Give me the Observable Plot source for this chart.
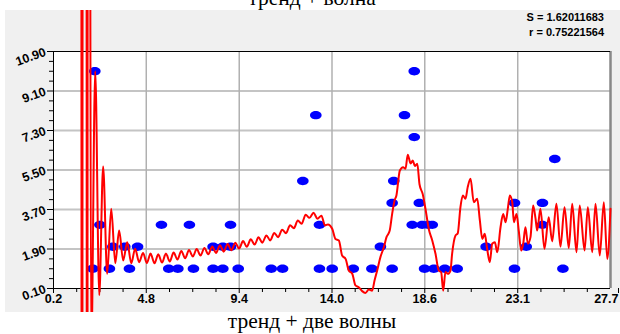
<!DOCTYPE html>
<html><head><meta charset="utf-8">
<script src="https://cdn.jsdelivr.net/npm/d3@7"></script>
<script src="https://cdn.jsdelivr.net/npm/@observablehq/plot@0.6"></script>
<style>
body{margin:0;width:620px;height:334px;position:relative;overflow:hidden;background:#fff;}
#title{position:absolute;left:0;width:624px;top:-12px;text-align:center;font:21.5px "Liberation Serif",serif;line-height:21px;color:#000;}
#chart{position:absolute;left:5px;top:10px;}
#stats{position:absolute;right:16px;top:10px;text-align:right;font:bold 11px "Liberation Sans",Arial,sans-serif;line-height:15px;color:#000;}
#caption{position:absolute;left:0;width:624px;top:311px;text-align:center;font:21.5px "Liberation Serif",serif;line-height:21px;color:#000;}
</style></head>
<body>
<div id="title">тренд + волна</div>
<div id="chart"></div>
<div id="stats">S = 1.62011683<br>r = 0.75221564</div>
<div id="caption">тренд + две волны</div>
<script>
const xTicks = [0.2, 4.78, 9.37, 13.95, 18.53, 23.12, 27.7];
const xLabels = ["0.2", "4.8", "9.4", "14.0", "18.6", "23.1", "27.7"];
const yTicks = [0.1, 1.9, 3.7, 5.5, 7.3, 9.1, 10.9];
const yLabels = ["0.10", "1.90", "3.70", "5.50", "7.30", "9.10", "10.90"];

const pointX = [2.24,2.14,2.49,2.96,3.13,3.72,3.95,4.35,5.53,5.89,
  6.34,6.91,7.11,8.08,8.08,8.56,8.56,8.94,8.94,9.32,
  10.95,11.51,12.51,13.15,13.33,13.33,13.96,15.00,15.92,16.34,
  16.92,16.92,17.00,17.53,18.01,18.01,17.91,18.26,18.40,18.70,
  18.90,18.52,18.98,19.52,20.13,21.56,22.96,22.96,23.54,24.34,
  24.34,24.95,25.35];
const pointY = [10,1,3,1,2,2,1,2,3,1,
  1,3,1,2,1,2,1,3,2,1,
  1,1,5,8,3,1,1,1,1,2,
  4,1,5,8,10,7,3,4,3,3,
  3,1,1,1,1,2,4,1,2,4,
  3,6,1];

const curveX = [1.57,1.61,1.65,1.82,1.86,1.90,1.96,2.06,2.26,2.46,
  2.65,2.85,3.05,3.25,3.44,3.64,3.84,4.04,4.23,4.43,
  4.62,4.81,4.99,5.19,5.37,5.56,5.75,5.94,6.13,6.32,
  6.51,6.70,6.89,7.08,7.27,7.46,7.65,7.84,8.04,8.22,
  8.42,8.60,8.80,8.98,9.18,9.36,9.56,9.74,9.94,10.13,
  10.32,10.51,10.71,10.90,11.10,11.29,11.49,11.68,11.88,12.07,
  12.26,12.45,12.65,12.84,13.04,13.23,13.43,13.60,13.75,13.96,
  14.12,14.29,14.45,14.62,14.78,14.95,15.11,15.27,15.44,15.60,
  15.77,15.93,16.05,16.18,16.34,16.51,16.64,16.80,16.92,17.04,
  17.13,17.30,17.46,17.58,17.69,17.83,17.94,18.04,18.16,18.27,
  18.43,18.57,18.73,18.90,19.06,19.22,19.34,19.44,19.55,19.67,
  19.80,19.88,20.05,20.16,20.29,20.41,20.54,20.65,20.79,20.95,
  21.12,21.25,21.37,21.49,21.61,21.74,21.86,21.99,22.11,22.27,
  22.40,22.52,22.63,22.73,22.85,22.93,23.06,23.17,23.29,23.39,
  23.50,23.62,23.75,23.88,24.00,24.08,24.24,24.44,24.65,24.82,
  25.03,25.23,25.43,25.64,25.81,26.02,26.18,26.42,26.58,26.80,
  26.96,27.17,27.37,27.54,27.70];
const curveY = [40,-40,40,40,-40,40,40,-3,10.0,-0.2,
  5.66,0.77,3.73,1.25,2.74,1.38,2.21,1.25,1.91,1.30,
  1.72,1.26,1.69,1.25,1.66,1.28,1.70,1.33,1.74,1.42,
  1.81,1.48,1.85,1.56,1.90,1.60,1.95,1.66,2.01,1.72,
  2.07,1.78,2.13,1.84,2.19,1.92,2.26,2.00,2.34,2.10,
  2.43,2.19,2.52,2.29,2.63,2.44,2.78,2.62,2.98,2.85,
  3.20,3.05,3.46,3.32,3.55,3.28,3.42,2.97,3.02,2.82,
  2.36,2.29,1.60,1.45,0.92,0.77,0.24,0.16,-0.02,-0.10,
  0.05,0.00,0.46,0.92,1.53,1.98,2.44,2.74,3.50,4.11,
  4.34,5.48,5.63,5.56,6.20,5.80,5.93,5.68,5.78,4.85,
  4.40,3.70,2.80,2.29,1.68,0.92,0.84,0.00,0.85,0.77,
  0.92,1.68,2.52,2.62,3.80,4.34,4.19,4.72,5.10,4.03,
  4.19,3.20,2.36,2.59,1.91,1.30,2.14,2.21,1.75,2.89,
  3.50,3.12,3.73,4.34,4.03,3.12,3.50,2.74,1.83,2.14,
  2.89,2.14,2.44,3.88,3.28,2.74,3.73,1.91,3.35,2.25,
  3.96,2.00,3.80,1.95,3.96,1.75,3.88,1.83,3.80,1.75,
  3.96,1.60,4.03,1.45,3.73];

const points = pointX.map((x, i) => ({x, y: pointY[i]}));
const curve = curveX.map((x, i) => ({x, y: curveY[i]}));
const xLabelOf = new Map(xTicks.map((t, i) => [t, xLabels[i]]));
const yLabelOf = new Map(yTicks.map((t, i) => [t, yLabels[i]]));

// minor tick positions: 4 subdivisions between major ticks
const xMinor = [], yMinor = [];
for (let i = 0; i < xTicks.length - 1; i++) for (let k = 1; k < 4; k++) xMinor.push(xTicks[i] + (xTicks[i+1] - xTicks[i]) * k / 4);
for (let i = 0; i < yTicks.length - 1; i++) for (let k = 1; k < 4; k++) yMinor.push(yTicks[i] + (yTicks[i+1] - yTicks[i]) * k / 4);

const ellipse = {draw(ctx) {
  const rx = 5.8, ry = 4.2, k = 0.5523;
  ctx.moveTo(rx, 0);
  ctx.bezierCurveTo(rx, ry * k, rx * k, ry, 0, ry);
  ctx.bezierCurveTo(-rx * k, ry, -rx, ry * k, -rx, 0);
  ctx.bezierCurveTo(-rx, -ry * k, -rx * k, -ry, 0, -ry);
  ctx.bezierCurveTo(rx * k, -ry, rx, -ry * k, rx, 0);
  ctx.closePath();
}};

const xMajorGrid = xTicks.slice(1, -1);
const yMajorGrid = yTicks.slice(1, -1);
const xInner = xTicks.slice(0, -1);
const xLast = xTicks.slice(-1);

const chart = Plot.plot({
  width: 615, height: 302,
  marginLeft: 48, marginRight: 10, marginTop: 41, marginBottom: 24,
  x: {domain: [0.2, 27.7], label: null},
  y: {domain: [0.1, 10.9], label: null},
  style: {background: "#f0f0f0", fontFamily: '"Liberation Sans", Arial, sans-serif', fontSize: "12.5px", fontWeight: "bold", overflow: "hidden", color: "#000"},
  marks: [
    Plot.frame({fill: "white", stroke: null}),
    Plot.ruleY(yMajorGrid, {stroke: "#c4c4c4", strokeWidth: 2}),
    Plot.ruleX(xMajorGrid, {stroke: "#b0b0b0", strokeWidth: 1.5}),
    Plot.axisX(xMinor, {tickSize: 4, tickFormat: () => "", label: null}),
    Plot.axisY(yMinor, {tickSize: 4, tickFormat: () => "", label: null}),
    Plot.axisX(xInner, {tickSize: 5, tickPadding: 1, tickFormat: d => xLabelOf.get(d), label: null}),
    Plot.axisX(xLast, {tickSize: 5, tickPadding: 1, tickFormat: d => xLabelOf.get(d), label: null, textAnchor: "end", dx: 8}),
    Plot.axisY(yTicks, {tickSize: 6, tickPadding: 2, tickRotate: -20, tickFormat: d => yLabelOf.get(d), label: null}),
    Plot.ruleX([27.7], {stroke: "#888", strokeWidth: 2.5}),
    Plot.ruleY([10.9], {stroke: "#000", strokeWidth: 1}),
    Plot.ruleY([0.1], {stroke: "#000", strokeWidth: 1}),
    Plot.ruleX([0.2], {stroke: "#000", strokeWidth: 1}),
    Plot.dot(points, {x: "x", y: "y", symbol: ellipse, fill: "#0000ff", r: 5}),
    Plot.line(curve, {x: "x", y: "y", stroke: "#ff0000", strokeWidth: 2, curve: "monotone-x"})
  ]
});
document.getElementById("chart").appendChild(chart);
</script>
</body></html>
